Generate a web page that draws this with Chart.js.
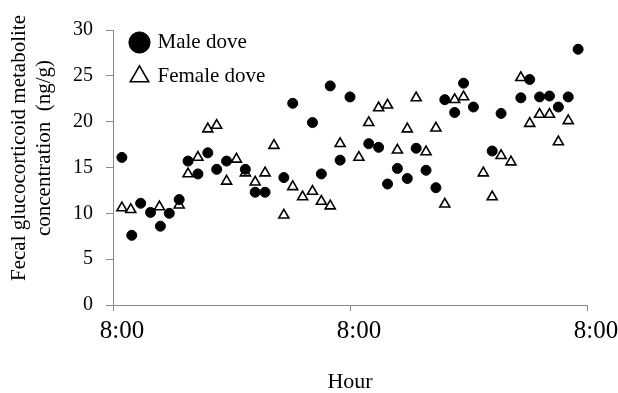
<!DOCTYPE html>
<html>
<head>
<meta charset="utf-8">
<script src="https://cdn.jsdelivr.net/npm/chart.js@4.4.1/dist/chart.umd.min.js"></script>
<style>
  body { margin: 0; background: #fff; }
  canvas { display: block; }
</style>
</head>
<body>
<canvas id="doveChart" width="618" height="393"></canvas>
<script>
// hours after the first 8:00 sample
const maleHours = [0.9, 1.9, 2.8, 3.8, 4.8, 5.7, 6.7, 7.6, 8.6, 9.6, 10.5, 11.5, 13.4, 14.4, 15.4, 17.3, 18.2, 20.2, 21.1, 22.0, 23.0, 24.0, 25.9, 26.9, 27.8, 28.8, 29.8, 30.7, 31.7, 32.7, 33.6, 34.6, 35.5, 36.5, 38.4, 39.3, 41.3, 42.2, 43.2, 44.2, 45.1, 46.1, 47.1];
const maleValues = [16.1, 7.6, 11.1, 10.1, 8.6, 10.0, 11.5, 15.7, 14.3, 16.6, 14.8, 15.7, 14.8, 12.3, 12.3, 13.9, 22.0, 19.9, 14.3, 23.9, 15.8, 22.7, 17.6, 17.2, 13.2, 14.9, 13.8, 17.1, 14.7, 12.8, 22.4, 21.0, 24.2, 21.6, 16.8, 20.9, 22.6, 24.6, 22.7, 22.8, 21.6, 22.7, 27.9];

const femaleHours = [0.9, 1.8, 4.7, 6.7, 7.6, 8.6, 9.6, 10.5, 11.5, 12.5, 13.4, 14.4, 15.4, 16.3, 17.3, 18.2, 19.2, 20.2, 21.1, 22.0, 23.0, 24.9, 25.9, 26.9, 27.8, 28.8, 29.8, 30.7, 31.7, 32.7, 33.6, 34.6, 35.5, 37.5, 38.4, 39.3, 40.3, 41.3, 42.2, 43.2, 44.2, 45.1, 46.1];
const femaleValues = [10.6, 10.4, 10.7, 10.9, 14.3, 16.1, 19.2, 19.6, 13.5, 15.9, 14.4, 13.4, 14.4, 17.4, 9.8, 12.9, 11.8, 12.4, 11.3, 10.8, 17.6, 16.1, 19.9, 21.5, 21.8, 16.9, 19.2, 22.6, 16.7, 19.3, 11.0, 22.4, 22.7, 14.4, 11.8, 16.3, 15.6, 24.8, 19.8, 20.8, 20.8, 17.8, 20.1];

const seriesNames = ['Male dove', 'Female dove'];
const xTickHours = [0, 24, 48];
const xTickLabels = ['8:00', '8:00', '8:00'];
const yTitleLines = ['Fecal glucocorticoid metabolite', 'concentration  (ng/g)'];
const xTitle = 'Hour';

const serif = '"Liberation Serif", "Times New Roman", serif';
const axisGray = '#8a8a8a';

function toPoints(xs, ys) {
    return xs.map((x, i) => ({ x: x, y: ys[i] }));
}

// two-line rotated y title, drawn by hand so it sits where the original has it
const yTitlePlugin = {
    id: 'yTitlePlugin',
    afterDraw(chart) {
        const { ctx } = chart;
        ctx.save();
        ctx.translate(0, 148);
        ctx.rotate(-Math.PI / 2);
        ctx.font = '21px ' + serif;
        ctx.fillStyle = '#000';
        ctx.textAlign = 'center';
        ctx.textBaseline = 'middle';
        ctx.fillText(yTitleLines[0], 0, 19);
        ctx.fillText(yTitleLines[1], 0, 44);
        ctx.restore();
    }
};

// nudge the in-plot legend to the top-left corner like the original
const legendShift = {
    id: 'legendShift',
    afterLayout(chart) {
        const lg = chart.legend;
        if (!lg) return;
        const area = chart.chartArea;
        const w = lg.width, h = lg.height;
        lg.left = area.left + 6;
        lg.top = area.top - 11;
        lg.right = lg.left + w;
        lg.bottom = lg.top + h;
    }
};

const ctx = document.getElementById('doveChart').getContext('2d');
new Chart(ctx, {
    type: 'scatter',
    data: {
        datasets: [
            {
                label: seriesNames[0],
                data: toPoints(maleHours, maleValues),
                pointStyle: 'circle',
                pointRadius: 5,
                backgroundColor: '#000',
                borderColor: '#000',
                borderWidth: 1
            },
            {
                label: seriesNames[1],
                data: toPoints(femaleHours, femaleValues),
                pointStyle: 'triangle',
                pointRadius: 5.8,
                backgroundColor: '#fff',
                borderColor: '#000',
                borderWidth: 1.6
            }
        ]
    },
    options: {
        responsive: false,
        animation: false,
        layout: { padding: { top: 30, right: 31, left: 0, bottom: 0 } },
        plugins: {
            legend: {
                position: 'chartArea',
                align: 'start',
                labels: {
                    usePointStyle: true,
                    boxWidth: 15,
                    boxHeight: 15,
                    padding: 13,
                    color: '#000',
                    font: { family: serif, size: 21 }
                }
            },
            tooltip: { enabled: false }
        },
        scales: {
            x: {
                type: 'linear',
                min: 0,
                max: 48,
                afterBuildTicks(scale) {
                    scale.ticks = xTickHours.map(v => ({ value: v }));
                },
                afterFit(scale) {
                    scale.height = 88;
                    scale.paddingLeft = 0;
                    scale.paddingRight = 0;
                },
                ticks: {
                    callback: (value, index) => xTickLabels[index],
                    color: '#000',
                    font: { family: serif, size: 25 },
                    padding: 5,
                    labelOffset: 9,
                    maxRotation: 0
                },
                grid: {
                    drawOnChartArea: false,
                    drawTicks: true,
                    tickLength: 6,
                    color: axisGray
                },
                border: { display: true, color: axisGray, width: 1 },
                title: {
                    display: true,
                    text: xTitle,
                    color: '#000',
                    font: { family: serif, size: 22, lineHeight: 1 },
                    padding: { top: 0, bottom: 0 }
                }
            },
            y: {
                min: 0,
                max: 30,
                afterFit(scale) {
                    scale.width = 113;
                    scale.paddingTop = 0;
                    scale.paddingBottom = 0;
                },
                ticks: {
                    stepSize: 5,
                    color: '#000',
                    font: { family: serif, size: 20 },
                    padding: 13
                },
                grid: {
                    drawOnChartArea: false,
                    drawTicks: true,
                    tickLength: 7,
                    color: axisGray
                },
                border: { display: true, color: axisGray, width: 1 }
            }
        }
    },
    plugins: [yTitlePlugin, legendShift]
});
</script>
</body>
</html>
